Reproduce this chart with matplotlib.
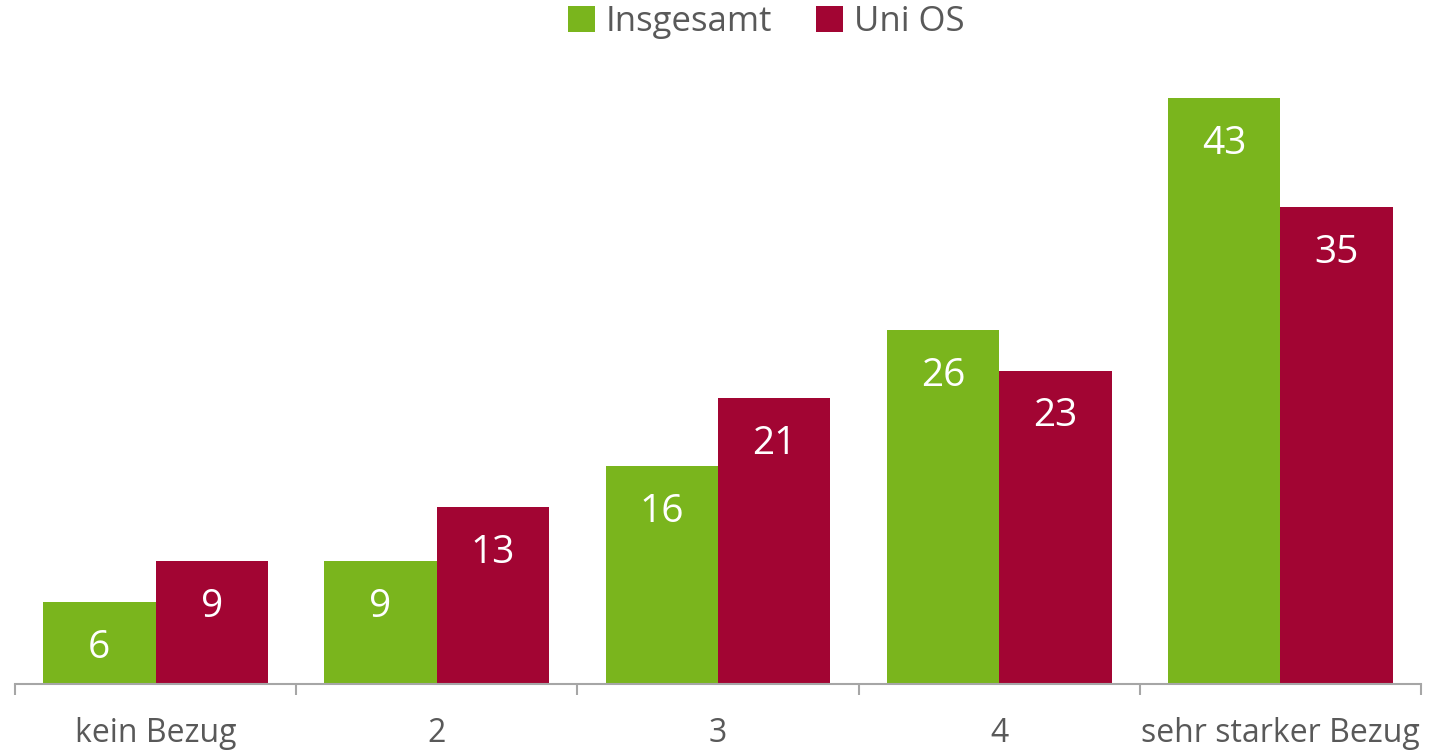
import matplotlib
matplotlib.use("Agg")
import matplotlib.pyplot as plt
import numpy as np

plt.rcParams['font.family'] = ['Open Sans', 'DejaVu Sans']

categories = ['kein Bezug', '2', '3', '4', 'sehr starker Bezug']
insgesamt = [6, 9, 16, 26, 43]
uni_os = [9, 13, 21, 23, 35]

green = '#7AB51D'
red = '#A20533'
grey_text = '#595959'
grey_axis = '#A6A6A6'

fig = plt.figure(figsize=(14.36, 7.51), dpi=100)
ax = fig.add_axes([15/1436, 67/751, 1406/1436, 654/751])

x = np.arange(len(categories))
w = 0.4
b1 = ax.bar(x - w/2, insgesamt, w, color=green, label='Insgesamt')
b2 = ax.bar(x + w/2, uni_os, w, color=red, label='Uni OS')

for bars, vals in ((b1, insgesamt), (b2, uni_os)):
    for r, v in zip(bars, vals):
        ax.annotate(str(v), (r.get_x() + r.get_width()/2, v), xytext=(0, -33),
                    textcoords='offset points', ha='center', va='center',
                    color='white', fontsize=28)

ax.set_xlim(-0.5, 4.5)
ax.set_ylim(0, 48)
ax.set_yticks([])
for s in ['top', 'right', 'left']:
    ax.spines[s].set_visible(False)
ax.spines['bottom'].set_color(grey_axis)
ax.spines['bottom'].set_linewidth(1.5)

ax.set_xticks(x)
ax.set_xticklabels(categories, fontsize=23, color=grey_text)
ax.tick_params(axis='x', which='major', length=0, pad=24)
ax.set_xticks(np.arange(-0.5, 5, 1), minor=True)
ax.tick_params(axis='x', which='minor', length=8, width=1.5, color=grey_axis)

fig.legend(loc='center', bbox_to_anchor=(766/1436, 1 - 22/751), ncol=2,
           frameon=False, fontsize=25, labelcolor=grey_text,
           handlelength=0.8, handleheight=0.8, handletextpad=0.3, columnspacing=1.25)

fig.savefig('out.png', dpi=100)
